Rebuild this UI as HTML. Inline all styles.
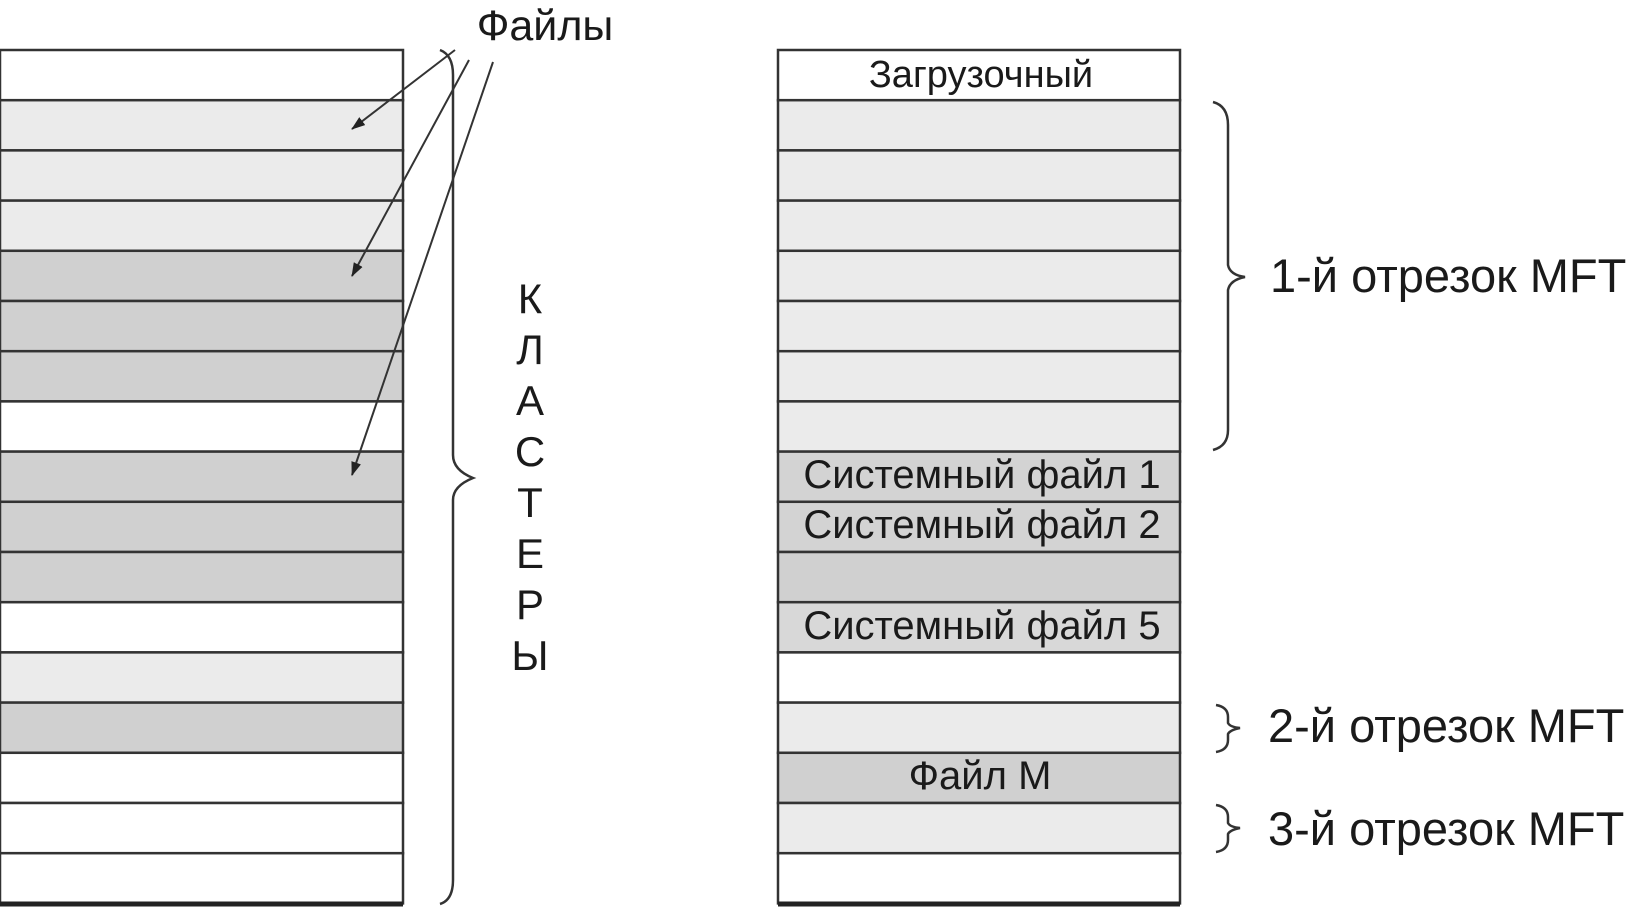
<!DOCTYPE html>
<html><head><meta charset="utf-8"><style>
html,body{margin:0;padding:0;background:#fff;}
svg{display:block;}
text{font-family:"Liberation Sans","DejaVu Sans",sans-serif;fill:#1a1a1a;}
</style></head><body>
<svg width="1636" height="909" viewBox="0 0 1636 909" xmlns="http://www.w3.org/2000/svg">
<defs><marker id="ah" markerWidth="14" markerHeight="10" refX="13" refY="5" orient="auto" markerUnits="userSpaceOnUse"><path d="M0,0 L14,5 L0,10 z" fill="#222"/></marker></defs>
<g stroke="#333" stroke-width="2.5">
<rect x="0" y="50" width="403" height="50.2" fill="#fff"/>
<rect x="0" y="100.2" width="403" height="50.2" fill="#ebebeb"/>
<rect x="0" y="150.4" width="403" height="50.2" fill="#ebebeb"/>
<rect x="0" y="200.6" width="403" height="50.2" fill="#ebebeb"/>
<rect x="0" y="250.8" width="403" height="50.2" fill="#d0d0d0"/>
<rect x="0" y="301" width="403" height="50.2" fill="#d0d0d0"/>
<rect x="0" y="351.2" width="403" height="50.2" fill="#d0d0d0"/>
<rect x="0" y="401.4" width="403" height="50.2" fill="#fff"/>
<rect x="0" y="451.6" width="403" height="50.2" fill="#d0d0d0"/>
<rect x="0" y="501.8" width="403" height="50.2" fill="#d0d0d0"/>
<rect x="0" y="552" width="403" height="50.2" fill="#d0d0d0"/>
<rect x="0" y="602.2" width="403" height="50.2" fill="#fff"/>
<rect x="0" y="652.4" width="403" height="50.2" fill="#ebebeb"/>
<rect x="0" y="702.6" width="403" height="50.2" fill="#d0d0d0"/>
<rect x="0" y="752.8" width="403" height="50.2" fill="#fff"/>
<rect x="0" y="803" width="403" height="50.2" fill="#fff"/>
<rect x="0" y="853.2" width="403" height="50.2" fill="#fff"/>
</g>
<line x1="0" y1="904" x2="403" y2="904" stroke="#222" stroke-width="5"/>
<g stroke="#333" stroke-width="2.5">
<rect x="778" y="50" width="402" height="50.2" fill="#fff"/>
<rect x="778" y="100.2" width="402" height="50.2" fill="#ebebeb"/>
<rect x="778" y="150.4" width="402" height="50.2" fill="#ebebeb"/>
<rect x="778" y="200.6" width="402" height="50.2" fill="#ebebeb"/>
<rect x="778" y="250.8" width="402" height="50.2" fill="#ebebeb"/>
<rect x="778" y="301" width="402" height="50.2" fill="#ebebeb"/>
<rect x="778" y="351.2" width="402" height="50.2" fill="#ebebeb"/>
<rect x="778" y="401.4" width="402" height="50.2" fill="#ebebeb"/>
<rect x="778" y="451.6" width="402" height="50.2" fill="#d3d3d3"/>
<rect x="778" y="501.8" width="402" height="50.2" fill="#d3d3d3"/>
<rect x="778" y="552" width="402" height="50.2" fill="#d0d0d0"/>
<rect x="778" y="602.2" width="402" height="50.2" fill="#d8d8d8"/>
<rect x="778" y="652.4" width="402" height="50.2" fill="#fff"/>
<rect x="778" y="702.6" width="402" height="50.2" fill="#ebebeb"/>
<rect x="778" y="752.8" width="402" height="50.2" fill="#d0d0d0"/>
<rect x="778" y="803" width="402" height="50.2" fill="#ebebeb"/>
<rect x="778" y="853.2" width="402" height="50.2" fill="#fff"/>
</g>
<line x1="778" y1="904" x2="1180" y2="904" stroke="#222" stroke-width="5"/>
<g font-size="40" text-anchor="middle">
<text x="981" y="87" font-size="38">Загрузочный</text>
<text x="982" y="488">Системный файл 1</text>
<text x="982" y="538">Системный файл 2</text>
<text x="982" y="639">Системный файл 5</text>
<text x="980" y="789">Файл М</text>
</g>
<g stroke="#333" stroke-width="2" fill="none">
<line x1="455" y1="50" x2="352" y2="129" marker-end="url(#ah)"/>
<line x1="469" y1="60" x2="352" y2="276" marker-end="url(#ah)"/>
<line x1="493" y1="62" x2="352" y2="475" marker-end="url(#ah)"/>
</g>
<text x="545" y="40" font-size="43" text-anchor="middle">Файлы</text>
<path d="M440,50 Q453,55 453,75 L453,455 Q453,470 473,478 Q453,486 453,500 L453,880 Q453,900 440,904" stroke="#333" stroke-width="2.5" fill="none"/>
<g font-size="42" text-anchor="middle">
<text x="530" y="313">К</text>
<text x="530" y="364">Л</text>
<text x="530" y="415">А</text>
<text x="530" y="466">С</text>
<text x="530" y="517">Т</text>
<text x="530" y="568">Е</text>
<text x="530" y="619">Р</text>
<text x="530" y="670">Ы</text>
</g>
<g stroke="#333" stroke-width="2.5" fill="none">
<path d="M1213,102 Q1228,106 1228,125 L1228,265 Q1230,275 1245,277 Q1230,280 1228,290 L1228,430 Q1228,446 1213,450"/>
<path d="M1216,705 Q1228,707 1228,717 L1228,723 Q1230,727 1240,728 Q1230,730 1228,734 L1228,740 Q1228,750 1216,752"/>
<path d="M1216,805 Q1228,807 1228,817 L1228,823 Q1230,827 1240,828 Q1230,830 1228,834 L1228,840 Q1228,850 1216,852"/>
</g>
<g font-size="47">
<text x="1270" y="292">1-й отрезок MFT</text>
<text x="1268" y="742">2-й отрезок MFT</text>
<text x="1268" y="845">3-й отрезок MFT</text>
</g>
</svg>
</body></html>
